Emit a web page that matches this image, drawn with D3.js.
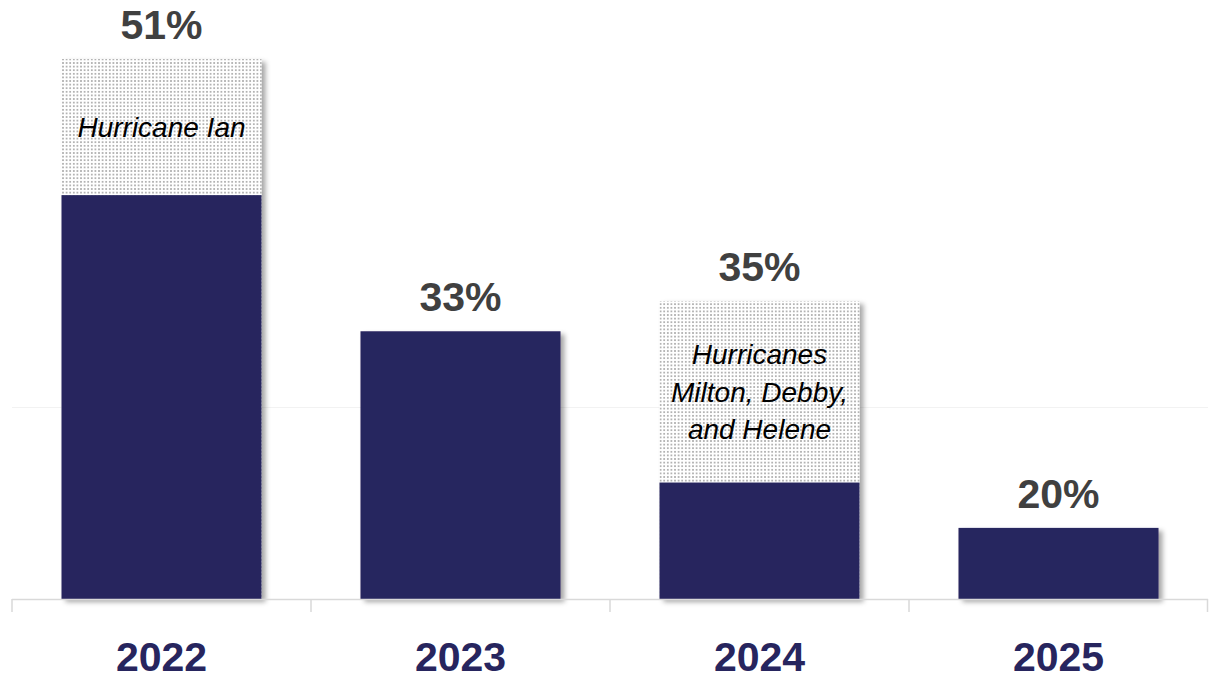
<!DOCTYPE html>
<html>
<head>
<meta charset="utf-8">
<script src="https://cdn.jsdelivr.net/npm/d3@7"></script>
<style>
  html, body { margin: 0; padding: 0; background: #ffffff; }
  svg { display: block; }
</style>
</head>
<body>
<svg id="chart" width="1209" height="680"></svg>
<script>
// Years on the category axis
const years = ["2022", "2023", "2024", "2025"];
// Total value per year (labelled above each bar)
const totals = [51, 33, 35, 20];
// Value excluding catastrophe events (solid navy part)
const baseValues = [42, 33, 23, 20];
// Event notes drawn inside the dotted (event) part of the bar
const eventNotes = [["Hurricane Ian"], [], ["Hurricanes", "Milton, Debby,", "and Helene"], []];
// Faint horizontal gridline values
const gridValues = [28];

const svg = d3.select("#chart");
const navy = "#27255e";
const font = "Liberation Sans, Arial, sans-serif";

const x = d3.scaleBand()
  .domain(years)
  .range([12, 1208])
  .paddingInner(0.331)
  .paddingOuter(0.1655);

const y = d3.scaleLinear()
  .domain([15.3, 51])
  .range([599, 59]);

const defs = svg.append("defs");
// light dotted fill for the event share of a bar
const pat = defs.append("pattern")
  .attr("id", "dots")
  .attr("patternUnits", "userSpaceOnUse")
  .attr("width", 3.6).attr("height", 3.6);
pat.append("rect").attr("width", 3.6).attr("height", 3.6).attr("fill", "#ffffff");
pat.append("rect").attr("x", 0.9).attr("y", 0.9).attr("width", 1.8).attr("height", 1.8).attr("fill", "#b3b3b3");

const shadow = defs.append("filter")
  .attr("id", "shadow")
  .attr("x", "-10%").attr("y", "-10%")
  .attr("width", "130%").attr("height", "130%");
shadow.append("feDropShadow")
  .attr("dx", 4).attr("dy", 3)
  .attr("stdDeviation", 2.5)
  .attr("flood-color", "#000")
  .attr("flood-opacity", 0.35);

// gridlines
svg.append("g").selectAll("line")
  .data(gridValues)
  .join("line")
  .attr("x1", 12).attr("x2", 1208)
  .attr("y1", d => Math.round(y(d)) + 0.5)
  .attr("y2", d => Math.round(y(d)) + 0.5)
  .attr("stroke", "#f2f2f2")
  .attr("stroke-width", 1);

const rows = years.map((yr, i) => ({
  year: yr, total: totals[i], base: baseValues[i], notes: eventNotes[i]
}));

// bars: whole bar with shadow, then solid base over the dotted event part
const bars = svg.append("g").selectAll("g")
  .data(rows)
  .join("g");

bars.append("rect")
  .attr("x", d => x(d.year))
  .attr("width", x.bandwidth())
  .attr("y", d => y(d.total))
  .attr("height", d => y.range()[0] - y(d.total))
  .attr("fill", d => d.total > d.base ? "url(#dots)" : navy)
  .attr("filter", "url(#shadow)");

bars.filter(d => d.total > d.base)
  .append("rect")
  .attr("x", d => x(d.year))
  .attr("width", x.bandwidth())
  .attr("y", d => y(d.base))
  .attr("height", d => y.range()[0] - y(d.base))
  .attr("fill", navy);

// event notes
bars.each(function (d) {
  if (!d.notes.length) return;
  const cy = (y(d.total) + y(d.base)) / 2;
  const lh = 37.5;
  const t = d3.select(this).append("text")
    .attr("text-anchor", "middle")
    .attr("font-family", font)
    .attr("font-style", "italic")
    .attr("font-size", 28)
    .attr("fill", "#000");
  d.notes.forEach((line, k) => {
    t.append("tspan")
      .attr("x", x(d.year) + x.bandwidth() / 2)
      .attr("y", cy + (k - (d.notes.length - 1) / 2) * lh + 10)
      .text(line);
  });
});

// value labels
bars.append("text")
  .attr("x", d => x(d.year) + x.bandwidth() / 2)
  .attr("y", d => y(d.total) - 20)
  .attr("text-anchor", "middle")
  .attr("font-family", font)
  .attr("font-weight", "bold")
  .attr("font-size", 41)
  .attr("fill", "#404040")
  .text(d => d.total + "%");

// category axis
const axis = svg.append("g")
  .attr("transform", `translate(0,${y.range()[0]})`)
  .call(d3.axisBottom(x).tickSize(0).tickPadding(0));
axis.select(".domain").remove();
axis.selectAll(".tick text")
  .attr("y", 72)
  .attr("dy", 0)
  .attr("font-family", font)
  .attr("font-weight", "bold")
  .attr("font-size", 41)
  .attr("fill", navy);

axis.append("line")
  .attr("x1", 12).attr("x2", 1208)
  .attr("y1", 0.5).attr("y2", 0.5)
  .attr("stroke", "#d9d9d9").attr("stroke-width", 1.5);

const bounds = d3.range(years.length + 1).map(i => x.range()[0] + i * x.step());
axis.append("g").selectAll("line")
  .data(bounds)
  .join("line")
  .attr("x1", d => Math.min(d, 1207.5)).attr("x2", d => Math.min(d, 1207.5))
  .attr("y1", 0).attr("y2", 13)
  .attr("stroke", "#d9d9d9").attr("stroke-width", 1.5);
</script>
</body>
</html>
